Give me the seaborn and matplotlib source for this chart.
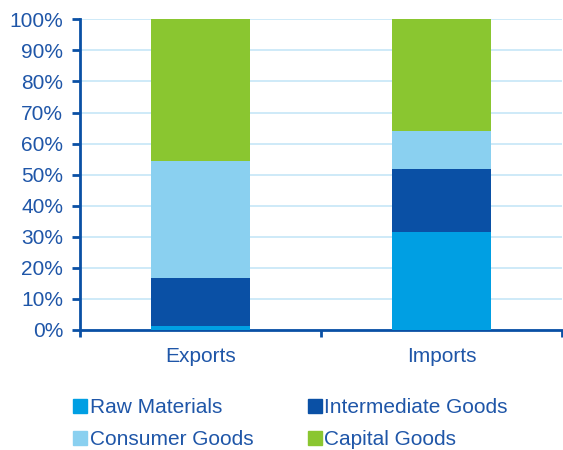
import pandas as pd
import matplotlib
matplotlib.use("Agg")
import matplotlib.pyplot as plt
import seaborn as sns
from matplotlib.lines import Line2D

categories = ["Exports", "Imports"]
series = ["Raw Materials", "Intermediate Goods", "Consumer Goods", "Capital Goods"]
raw_materials = [1.3, 31.6]
intermediate_goods = [15.5, 20.2]
consumer_goods = [37.5, 12.3]
capital_goods = [45.7, 35.9]
colors = ["#009FE3", "#0A50A5", "#8AD0F0", "#8AC630"]
yticks = list(range(0, 101, 10))

text_color = "#1F56A8"
spine_color = "#0A50A5"

sns.set_style("white")
plt.rcParams['font.family'] = ['Liberation Sans', 'DejaVu Sans']

df = pd.DataFrame({"category": categories,
                   "Raw Materials": raw_materials,
                   "Intermediate Goods": intermediate_goods,
                   "Consumer Goods": consumer_goods,
                   "Capital Goods": capital_goods})
cum = df[series].cumsum(axis=1)
cum["category"] = df["category"]

fig = plt.figure(figsize=(5.63, 4.5), dpi=100)
ax = fig.add_axes([0.142, 0.267, 0.856, 0.69])

# stacked bars: draw cumulative totals from top down so lower segments overlay
for name, col in reversed(list(zip(series, colors))):
    sns.barplot(data=cum, x="category", y=name, color=col, width=0.41,
                saturation=1, linewidth=0, ax=ax, zorder=3)

ax.set_ylim(0, 100)
ax.set_xlim(-0.5, 1.5)
ax.set_yticks(yticks)
ax.set_yticklabels([f"{t}%" for t in yticks])
ax.yaxis.grid(True, color="#C6E6F7", linewidth=1.2, zorder=0)
ax.set_axisbelow(True)

# category labels between boundary ticks
ax.set_xticks([-0.5, 0.5, 1.5])
ax.set_xticklabels(["", "", ""])
ax.set_xticks([0, 1], minor=True)
ax.set_xticklabels(categories, minor=True)
ax.tick_params(axis="x", which="minor", bottom=True, length=0, pad=12,
               labelsize=15, labelcolor=text_color)
ax.tick_params(axis="x", which="major", bottom=True, direction="out", length=5,
               width=2, color=spine_color)
ax.tick_params(axis="y", left=True, direction="out", length=6, width=2, color=spine_color,
               labelsize=15, labelcolor=text_color, pad=6)
ax.set_xlabel("")
ax.set_ylabel("")

for s in ["top", "right"]:
    ax.spines[s].set_visible(False)
for s in ["left", "bottom"]:
    ax.spines[s].set_color(spine_color)
    ax.spines[s].set_linewidth(2)

order = [0, 2, 1, 3]
handles = [Line2D([0], [0], marker="s", linestyle="", markersize=9.5,
                  markerfacecolor=colors[i], markeredgecolor=colors[i]) for i in order]
labels = [series[i] for i in order]
leg = fig.legend(handles, labels, ncol=2, loc="upper left", bbox_to_anchor=(0.117, 0.134),
                 frameon=False, fontsize=15, handlelength=0.6, handletextpad=0.15,
                 columnspacing=2.65, labelspacing=0.62, borderaxespad=0)
for t in leg.get_texts():
    t.set_color(text_color)

fig.savefig("out.png", dpi=100)
